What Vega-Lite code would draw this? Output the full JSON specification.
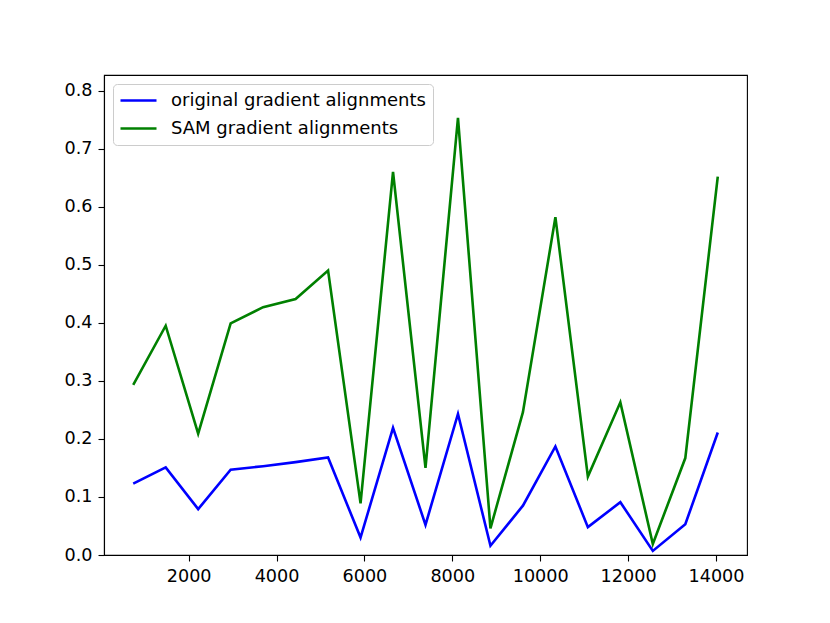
{
  "$schema": "https://vega.github.io/schema/vega-lite/v6.json",
  "width": 643,
  "height": 480,
  "autosize": {"type": "none"},
  "padding": {"left": 104, "top": 75, "right": 83, "bottom": 68},
  "background": "white",
  "config": {
    "view": {"stroke": "black", "strokeWidth": 1.1},
    "font": "DejaVu Sans",
    "axis": {
      "domainColor": "black",
      "domainWidth": 1.1,
      "tickColor": "black",
      "tickWidth": 1.1,
      "tickSize": 6,
      "labelFont": "DejaVu Sans",
      "labelFontSize": 17.6,
      "labelColor": "black",
      "labelPadding": 6,
      "grid": false,
      "title": null
    }
  },
  "data": {
    "values": [
      {"step": 739, "series": "original gradient alignments", "value": 0.123},
      {"step": 1478, "series": "original gradient alignments", "value": 0.151},
      {"step": 2217, "series": "original gradient alignments", "value": 0.079},
      {"step": 2956, "series": "original gradient alignments", "value": 0.147},
      {"step": 3695, "series": "original gradient alignments", "value": 0.153},
      {"step": 4434, "series": "original gradient alignments", "value": 0.160},
      {"step": 5173, "series": "original gradient alignments", "value": 0.168},
      {"step": 5912, "series": "original gradient alignments", "value": 0.030},
      {"step": 6651, "series": "original gradient alignments", "value": 0.219},
      {"step": 7390, "series": "original gradient alignments", "value": 0.052},
      {"step": 8129, "series": "original gradient alignments", "value": 0.243},
      {"step": 8868, "series": "original gradient alignments", "value": 0.016},
      {"step": 9607, "series": "original gradient alignments", "value": 0.085},
      {"step": 10346, "series": "original gradient alignments", "value": 0.187},
      {"step": 11085, "series": "original gradient alignments", "value": 0.048},
      {"step": 11824, "series": "original gradient alignments", "value": 0.091},
      {"step": 12563, "series": "original gradient alignments", "value": 0.007},
      {"step": 13302, "series": "original gradient alignments", "value": 0.053},
      {"step": 14041, "series": "original gradient alignments", "value": 0.211},
      {"step": 739, "series": "SAM gradient alignments", "value": 0.293},
      {"step": 1478, "series": "SAM gradient alignments", "value": 0.395},
      {"step": 2217, "series": "SAM gradient alignments", "value": 0.209},
      {"step": 2956, "series": "SAM gradient alignments", "value": 0.399},
      {"step": 3695, "series": "SAM gradient alignments", "value": 0.427},
      {"step": 4434, "series": "SAM gradient alignments", "value": 0.441},
      {"step": 5173, "series": "SAM gradient alignments", "value": 0.490},
      {"step": 5912, "series": "SAM gradient alignments", "value": 0.089},
      {"step": 6651, "series": "SAM gradient alignments", "value": 0.660},
      {"step": 7390, "series": "SAM gradient alignments", "value": 0.150},
      {"step": 8129, "series": "SAM gradient alignments", "value": 0.753},
      {"step": 8868, "series": "SAM gradient alignments", "value": 0.046},
      {"step": 9607, "series": "SAM gradient alignments", "value": 0.246},
      {"step": 10346, "series": "SAM gradient alignments", "value": 0.582},
      {"step": 11085, "series": "SAM gradient alignments", "value": 0.135},
      {"step": 11824, "series": "SAM gradient alignments", "value": 0.263},
      {"step": 12563, "series": "SAM gradient alignments", "value": 0.019},
      {"step": 13302, "series": "SAM gradient alignments", "value": 0.167},
      {"step": 14041, "series": "SAM gradient alignments", "value": 0.652}
    ]
  },
  "mark": {"type": "line", "strokeWidth": 2.6, "clip": true},
  "encoding": {
    "x": {
      "field": "step",
      "type": "quantitative",
      "scale": {"domain": [74, 14706], "nice": false, "zero": false},
      "axis": {"values": [2000, 4000, 6000, 8000, 10000, 12000, 14000], "format": "d"}
    },
    "y": {
      "field": "value",
      "type": "quantitative",
      "scale": {"domain": [0, 0.827], "nice": false},
      "axis": {"values": [0, 0.1, 0.2, 0.3, 0.4, 0.5, 0.6, 0.7, 0.8], "format": ".1f"}
    },
    "color": {
      "field": "series",
      "type": "nominal",
      "scale": {
        "domain": ["original gradient alignments", "SAM gradient alignments"],
        "range": ["#0000ff", "#008000"]
      },
      "legend": {
        "title": null,
        "orient": "none",
        "legendX": 9,
        "legendY": 9,
        "symbolType": "M-1.125,0L3.375,0",
        "symbolSize": 256,
        "symbolStrokeWidth": 2.6,
        "labelFont": "DejaVu Sans",
        "labelFontSize": 18,
        "labelColor": "black",
        "labelLimit": 0,
        "labelOffset": 32,
        "rowPadding": 9,
        "padding": 7,
        "fillColor": "rgba(255,255,255,0.8)",
        "strokeColor": "#cccccc",
        "cornerRadius": 4
      }
    }
  }
}
